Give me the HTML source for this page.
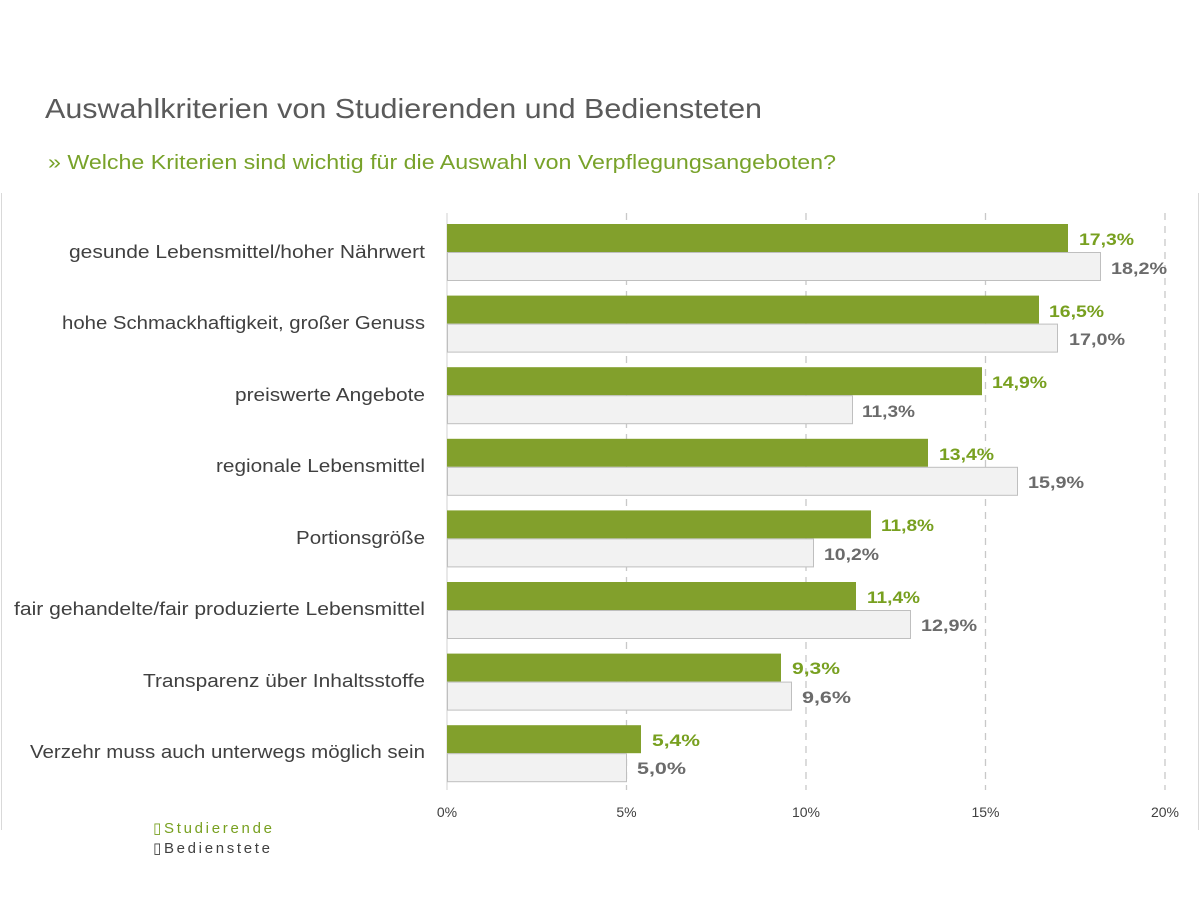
<!DOCTYPE html>
<html><head><meta charset="utf-8"><style>
html,body{margin:0;padding:0;background:#fff}
svg{display:block}
</style></head><body>
<svg width="1200" height="900" xmlns="http://www.w3.org/2000/svg" font-family="Liberation Sans, DejaVu Sans, sans-serif">
<rect width="1200" height="900" fill="#fff"/>
<line x1="1.5" y1="193" x2="1.5" y2="830" stroke="#d9d9d9"/>
<line x1="1198.5" y1="193" x2="1198.5" y2="830" stroke="#d9d9d9"/>
<text x="45" y="118" font-size="28" fill="#5a5a5a" textLength="717" lengthAdjust="spacingAndGlyphs">Auswahlkriterien von Studierenden und Bediensteten</text>
<text x="48" y="169" font-size="20" fill="#78a22a" textLength="788" lengthAdjust="spacingAndGlyphs">» Welche Kriterien sind wichtig für die Auswahl von Verpflegungsangeboten?</text>
<g stroke="#c8c8c8" stroke-dasharray="7,6" stroke-width="1.3">
<line x1="626.5" y1="213" x2="626.5" y2="790"/>
<line x1="806" y1="213" x2="806" y2="790"/>
<line x1="985.5" y1="213" x2="985.5" y2="790"/>
<line x1="1165" y1="213" x2="1165" y2="790"/>
</g>
<line x1="447" y1="213" x2="447" y2="790" stroke="#d0d0d0"/>
<g font-size="14" fill="#404040" text-anchor="middle">
<text x="447" y="817">0%</text><text x="626.5" y="817">5%</text><text x="806" y="817">10%</text><text x="985.5" y="817">15%</text><text x="1165" y="817">20%</text>
</g>
<g font-size="18" fill="#404040" lengthAdjust="spacingAndGlyphs">
<text x="69" y="258" textLength="356" lengthAdjust="spacingAndGlyphs">gesunde Lebensmittel/hoher Nährwert</text>
<text x="62" y="329" textLength="363" lengthAdjust="spacingAndGlyphs">hohe Schmackhaftigkeit, großer Genuss</text>
<text x="235" y="401" textLength="190" lengthAdjust="spacingAndGlyphs">preiswerte Angebote</text>
<text x="216" y="472" textLength="209" lengthAdjust="spacingAndGlyphs">regionale Lebensmittel</text>
<text x="296" y="544" textLength="129" lengthAdjust="spacingAndGlyphs">Portionsgröße</text>
<text x="14" y="615" textLength="411" lengthAdjust="spacingAndGlyphs">fair gehandelte/fair produzierte Lebensmittel</text>
<text x="143" y="687" textLength="282" lengthAdjust="spacingAndGlyphs">Transparenz über Inhaltsstoffe</text>
<text x="30" y="758" textLength="395" lengthAdjust="spacingAndGlyphs">Verzehr muss auch unterwegs möglich sein</text>
</g>
<g>
<rect x="447" y="224" width="621" height="28" fill="#82a02c"/>
<rect x="447.5" y="252.5" width="653" height="28" fill="#f2f2f2" stroke="#bfbfbf"/>
<rect x="447" y="295.6" width="592" height="28" fill="#82a02c"/>
<rect x="447.5" y="324.1" width="610" height="28" fill="#f2f2f2" stroke="#bfbfbf"/>
<rect x="447" y="367.2" width="535" height="28" fill="#82a02c"/>
<rect x="447.5" y="395.7" width="405" height="28" fill="#f2f2f2" stroke="#bfbfbf"/>
<rect x="447" y="438.8" width="481" height="28" fill="#82a02c"/>
<rect x="447.5" y="467.3" width="570" height="28" fill="#f2f2f2" stroke="#bfbfbf"/>
<rect x="447" y="510.4" width="424" height="28" fill="#82a02c"/>
<rect x="447.5" y="538.9" width="366" height="28" fill="#f2f2f2" stroke="#bfbfbf"/>
<rect x="447" y="582" width="409" height="28" fill="#82a02c"/>
<rect x="447.5" y="610.5" width="463" height="28" fill="#f2f2f2" stroke="#bfbfbf"/>
<rect x="447" y="653.6" width="334" height="28" fill="#82a02c"/>
<rect x="447.5" y="682.1" width="344" height="28" fill="#f2f2f2" stroke="#bfbfbf"/>
<rect x="447" y="725.2" width="194" height="28" fill="#82a02c"/>
<rect x="447.5" y="753.7" width="179" height="28" fill="#f2f2f2" stroke="#bfbfbf"/>
</g>
<g font-size="17" font-weight="bold" fill="#78a020">
<text x="1079" y="245" textLength="55" lengthAdjust="spacingAndGlyphs">17,3%</text>
<text x="1049" y="317" textLength="55" lengthAdjust="spacingAndGlyphs">16,5%</text>
<text x="992" y="388" textLength="55" lengthAdjust="spacingAndGlyphs">14,9%</text>
<text x="939" y="460" textLength="55" lengthAdjust="spacingAndGlyphs">13,4%</text>
<text x="881" y="531" textLength="53" lengthAdjust="spacingAndGlyphs">11,8%</text>
<text x="867" y="603" textLength="53" lengthAdjust="spacingAndGlyphs">11,4%</text>
<text x="792" y="674" textLength="48" lengthAdjust="spacingAndGlyphs">9,3%</text>
<text x="652" y="746" textLength="48" lengthAdjust="spacingAndGlyphs">5,4%</text>
</g>
<g font-size="17" font-weight="bold" fill="#6b6b6b">
<text x="1111" y="274" textLength="56" lengthAdjust="spacingAndGlyphs">18,2%</text>
<text x="1069" y="345" textLength="56" lengthAdjust="spacingAndGlyphs">17,0%</text>
<text x="862" y="417" textLength="53" lengthAdjust="spacingAndGlyphs">11,3%</text>
<text x="1028" y="488" textLength="56" lengthAdjust="spacingAndGlyphs">15,9%</text>
<text x="824" y="560" textLength="55" lengthAdjust="spacingAndGlyphs">10,2%</text>
<text x="921" y="631" textLength="56" lengthAdjust="spacingAndGlyphs">12,9%</text>
<text x="802" y="703" textLength="49" lengthAdjust="spacingAndGlyphs">9,6%</text>
<text x="637" y="774" textLength="49" lengthAdjust="spacingAndGlyphs">5,0%</text>
</g>
<text x="153" y="833" font-size="15" fill="#78a020" textLength="119" lengthAdjust="spacing">▯Studierende</text>
<text x="153" y="853" font-size="15" fill="#404040" textLength="117" lengthAdjust="spacing">▯Bedienstete</text>
</svg>
</body></html>
